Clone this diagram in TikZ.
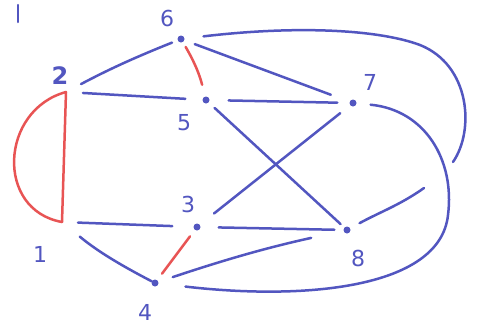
\documentclass[tikz,border=0pt]{standalone}
\usepackage{fontspec}
\setmainfont{DejaVu Sans}
\definecolor{pen}{RGB}{82,86,192}
\definecolor{redpen}{RGB}{232,84,84}
\begin{document}
\begin{tikzpicture}[x=1pt,y=-1pt,
  edge/.style={draw=pen,line width=2.5pt,line cap=round},
  redge/.style={draw=redpen,line width=2.5pt,line cap=round},
  dot/.style={circle,fill=pen,inner sep=0pt,minimum size=7pt},
  lab/.style={text=pen,font=\fontsize{22}{24}\selectfont,inner sep=0pt}]
\useasboundingbox (0,0) rectangle (479,325);
\fill[white] (0,0) rectangle (479,325);
% stray mark
\draw[edge] (18,5) -- (18,22);
% vertices
\coordinate (v1) at (62,222);
\coordinate (v2) at (66,92);
\node[dot] (v3) at (197,227) {};
\node[dot] (v4) at (155,283) {};
\node[dot] (v5) at (206,100) {};
\node[dot] (v6) at (181,39) {};
\node[dot] (v7) at (353,103) {};
\node[dot] (v8) at (347,230) {};
\coordinate (ga) at (453,162);
\coordinate (gb) at (424,188);
% labels
\node[lab] (l1) at (40,254) {1};
\node[lab,font=\fontsize{24}{26}\bfseries] (l2) at (60,76) {2};
\node[lab] (l3) at (188,204) {3};
\node[lab] (l4) at (145,312) {4};
\node[lab] (l5) at (184,123) {5};
\node[lab] (l6) at (167,18) {6};
\node[lab] (l7) at (370,82) {7};
\node[lab] (l8) at (358,258) {8};
% red edges
\draw[redge] (v2) .. controls (0,110) and (-5,210) .. (v1);
\draw[redge] (v2) -- (v1);
\draw[redge,shorten <=5.5pt,shorten >=12pt] (v6) to[bend left=8] (v5);
\draw[redge,shorten <=8pt,shorten >=8pt] (v3) -- (v4);
% blue edges
\draw[edge,shorten <=17pt,shorten >=6pt] (v2) to[bend left=3] (v6);
\draw[edge,shorten <=17pt,shorten >=17pt] (v2) -- (v5);
\draw[edge,shorten <=11pt,shorten >=20pt] (v6) -- (v7);
\draw[edge,shorten <=19pt,shorten >=12pt] (v5) -- (v7);
\draw[edge,shorten <=8pt,shorten >=5pt] (v5) -- (v8);
\draw[edge,shorten <=12.6pt,shorten >=18pt] (v7) -- (v3);
\draw[edge,shorten <=16pt,shorten >=21pt] (v1) -- (v3);
\draw[edge,shorten <=23pt,shorten >=0pt] (v1) to[bend right=6] (v4);
\draw[edge,shorten <=18pt,shorten >=9pt] (v3) -- (v8);
\draw[edge,shorten <=15pt,shorten >=33pt] (v4) to[bend left=3] (v8);
% 6 -- 8 long curve, interrupted where it passes 7 -- 4
\draw[edge,shorten <=19pt] (v6) .. controls (300,25) and (380,30) .. (420,45)
   .. controls (470,65) and (475,130) .. (ga);
\draw[edge,shorten >=10.6pt] (gb) .. controls (400,205) and (380,212) .. (v8);
% 7 -- 4 long curve
\draw[edge,shorten <=14pt,shorten >=27pt] (v7) .. controls (425,110) and (455,160) .. (448,215)
   .. controls (440,290) and (300,300) .. (v4);
\end{tikzpicture}
\end{document}
